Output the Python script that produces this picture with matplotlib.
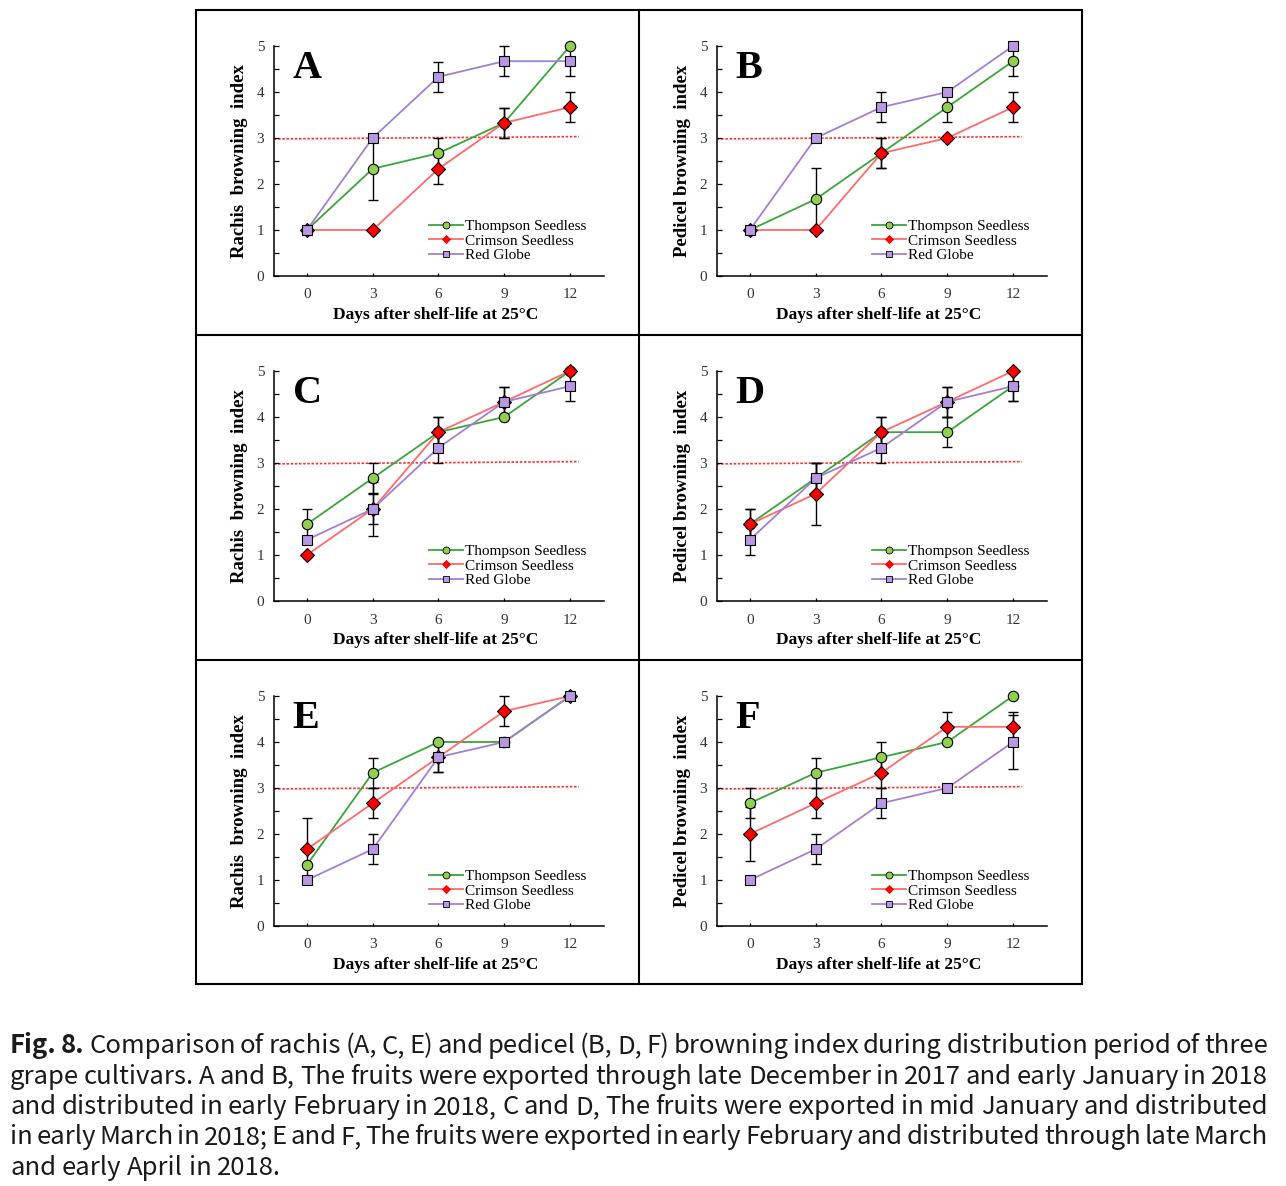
import matplotlib.pyplot as plt
from matplotlib.lines import Line2D
from matplotlib.patches import Rectangle
from matplotlib.ticker import MultipleLocator

# --- data (browning index, mean and error) ---
days = [0, 3, 6, 9, 12]
cultivars = ['Thompson Seedless', 'Crimson Seedless', 'Red Globe']

# A: rachis, exported late Dec 2017 / early Jan 2018
a_ts = [1.0, 2.33, 2.67, 3.33, 5.0]
a_ts_err = [0, 0.67, 0.33, 0.33, 0]
a_cs = [1.0, 1.0, 2.33, 3.33, 3.67]
a_cs_err = [0, 0, 0.33, 0.33, 0.33]
a_rg = [1.0, 3.0, 4.33, 4.67, 4.67]
a_rg_err = [0, 0, 0.33, 0.33, 0.33]

# B: pedicel
b_ts = [1.0, 1.67, 2.67, 3.67, 4.67]
b_ts_err = [0, 0.67, 0.33, 0.33, 0.33]
b_cs = [1.0, 1.0, 2.67, 3.0, 3.67]
b_cs_err = [0, 0, 0.33, 0, 0.33]
b_rg = [1.0, 3.0, 3.67, 4.0, 5.0]
b_rg_err = [0, 0, 0.33, 0, 0]

# C: rachis, exported mid Jan
c_ts = [1.67, 2.67, 3.67, 4.0, 5.0]
c_ts_err = [0.33, 0.33, 0.33, 0, 0]
c_cs = [1.0, 2.0, 3.67, 4.33, 5.0]
c_cs_err = [0, 0.33, 0.33, 0.33, 0]
c_rg = [1.33, 2.0, 3.33, 4.33, 4.67]
c_rg_err = [0, 0.58, 0.33, 0.33, 0.33]

# D: pedicel
d_ts = [1.67, 2.67, 3.67, 3.67, 4.67]
d_ts_err = [0.33, 0.33, 0.33, 0.33, 0.33]
d_cs = [1.67, 2.33, 3.67, 4.33, 5.0]
d_cs_err = [0.33, 0.67, 0.33, 0.33, 0]
d_rg = [1.33, 2.67, 3.33, 4.33, 4.67]
d_rg_err = [0.33, 0.33, 0.33, 0.33, 0.33]

# E: rachis, exported early Feb
e_ts = [1.33, 3.33, 4.0, 4.0, 5.0]
e_ts_err = [0, 0.33, 0, 0, 0]
e_cs = [1.67, 2.67, 3.67, 4.67, 5.0]
e_cs_err = [0.67, 0.33, 0.33, 0.33, 0]
e_rg = [1.0, 1.67, 3.67, 4.0, 5.0]
e_rg_err = [0, 0.33, 0.33, 0, 0]

# F: pedicel
f_ts = [2.67, 3.33, 3.67, 4.0, 5.0]
f_ts_err = [0.33, 0.33, 0.33, 0, 0]
f_cs = [2.0, 2.67, 3.33, 4.33, 4.33]
f_cs_err = [0.58, 0.33, 0.33, 0.33, 0.33]
f_rg = [1.0, 1.67, 2.67, 3.0, 4.0]
f_rg_err = [0, 0.33, 0.33, 0, 0.58]

# dotted threshold line (index 3)
thr_x = [-1.5, 12.4]
thr_y = [2.98, 3.03]

caption_lines = [
    "Fig. 8. Comparison of rachis (A, C, E) and pedicel (B, D, F) browning index during distribution period of three",
    "grape cultivars. A and B, The fruits were exported through late December in 2017 and early January in 2018",
    "and distributed in early February in 2018, C and D, The fruits were exported in mid January and distributed",
    "in early March in 2018; E and F, The fruits were exported in early February and distributed through late March",
    "and early April in 2018.",
]

panels = [
    ('A', 'Rachis  browning  index', (a_ts, a_ts_err), (a_cs, a_cs_err), (a_rg, a_rg_err)),
    ('B', 'Pedicel browning  index', (b_ts, b_ts_err), (b_cs, b_cs_err), (b_rg, b_rg_err)),
    ('C', 'Rachis  browning  index', (c_ts, c_ts_err), (c_cs, c_cs_err), (c_rg, c_rg_err)),
    ('D', 'Pedicel browning  index', (d_ts, d_ts_err), (d_cs, d_cs_err), (d_rg, d_rg_err)),
    ('E', 'Rachis  browning  index', (e_ts, e_ts_err), (e_cs, e_cs_err), (e_rg, e_rg_err)),
    ('F', 'Pedicel browning  index', (f_ts, f_ts_err), (f_cs, f_cs_err), (f_rg, f_rg_err)),
]

# style per cultivar: line colour, marker, marker fill, size
styles = [
    ('#3aa53a', 'o', '#93cf4f', 7.5),
    ('#ff6a6a', 'D', '#ff0000', 7.5),
    ('#a27fd2', 's', '#b898e2', 7.0),
]

SERIF = 'Liberation Serif'
W, H = 1286, 1186

fig = plt.figure(figsize=(W / 100, H / 100), dpi=100)

def fx(px):
    return px / W

def fy(py):
    return 1 - py / H

# panel frames
fig.add_artist(Rectangle((fx(196), fy(984)), fx(1082 - 196), (984 - 10) / H,
                         transform=fig.transFigure, fill=False, lw=1.5, ec='black'))
fig.add_artist(Line2D([fx(639), fx(639)], [fy(10), fy(984)], transform=fig.transFigure, lw=1.5, color='black'))
for yy in (335, 660):
    fig.add_artist(Line2D([fx(196), fx(1082)], [fy(yy), fy(yy)], transform=fig.transFigure, lw=1.5, color='black'))

origins = [(196, 10), (639, 10), (196, 335), (639, 335), (196, 660), (639, 660)]

for (px, py), (letter, ylab, *series) in zip(origins, panels):
    ax = fig.add_axes([fx(px + 78), fy(py + 266), 330 / W, 230 / H])
    ax.set_xlim(-1.5, 13.55)
    ax.set_ylim(0, 5)
    for s in ('top', 'right'):
        ax.spines[s].set_visible(False)
    for s in ('left', 'bottom'):
        ax.spines[s].set_linewidth(1.1)

    ax.plot(thr_x, thr_y, color='#ff3030', lw=1.2, ls=(0, (1.5, 1)), clip_on=False, zorder=1)

    for k, (vals, err) in enumerate(series):
        col, mk, mfc, ms = styles[k]
        ex = [d for d, e in zip(days, err) if e > 0]
        ey = [v for v, e in zip(vals, err) if e > 0]
        ee = [e for e in err if e > 0]
        if ex:
            ax.errorbar(ex, ey, yerr=ee, fmt='none', ecolor='black', elinewidth=1,
                        capsize=3.5, capthick=1, zorder=2, clip_on=False)
        ax.plot(days, vals, color=col, lw=1.3, marker=mk, ms=ms, mfc=mfc, mec='black',
                mew=0.8, clip_on=False, zorder=3 + k)

    ax.set_xticks(days)
    ax.yaxis.set_major_locator(MultipleLocator(1))
    ax.yaxis.set_minor_locator(MultipleLocator(0.5))
    ax.tick_params(axis='y', which='both', direction='in', length=3.5, width=0.9, pad=7,
                   labelsize=11, labelcolor='#333333')
    ax.tick_params(axis='x', direction='in', length=2.5, width=0.9, pad=9,
                   labelsize=11, labelcolor='#333333')
    for lab in ax.get_xticklabels() + ax.get_yticklabels():
        lab.set_fontfamily(SERIF)

    ax.text(-0.65, 4.3, letter, fontsize=29, fontweight='bold', family=SERIF,
            ha='left', va='baseline', zorder=6)
    ax.text(-0.106, 0.5, ylab, transform=ax.transAxes, rotation=90, ha='center', va='center',
            fontsize=13.5, fontweight='bold', family=SERIF)
    ax.text(0.49, -0.17, 'Days after shelf-life at 25°C', transform=ax.transAxes,
            ha='center', va='center', fontsize=12.5, fontweight='bold', family=SERIF)

    handles = [Line2D([], [], color=c, lw=1.3, marker=m, ms=5 if m != 'D' else 4.5,
                      mfc=f, mec='black' if m != 'D' else f, mew=0.6)
               for c, m, f, _ in styles]
    ax.legend(handles, cultivars, loc='upper left', bbox_to_anchor=(0.47, 0.245),
              frameon=False, borderpad=0, borderaxespad=0, labelspacing=0.05,
              handlelength=2.2, handletextpad=0.15, prop={'family': SERIF, 'size': 11})

# caption, justified line by line
renderer = fig.canvas.get_renderer()
left_px, right_px = 10, 1268
base0, step = 1053, 30.5
cap_font = ['Noto Sans CJK KR', 'DejaVu Sans']
cap_size = 18.5
probe1 = fig.text(0, 0, 'a a', fontsize=cap_size, family=cap_font)
probe2 = fig.text(0, 0, 'aa', fontsize=cap_size, family=cap_font)
space_w = probe1.get_window_extent(renderer).width - probe2.get_window_extent(renderer).width
probe1.remove()
probe2.remove()
for i, line in enumerate(caption_lines):
    words = line.split(' ')
    texts = []
    for j, w in enumerate(words):
        bold = (i == 0 and j < 2)
        t = fig.text(0, fy(base0 + i * step), w, fontsize=cap_size, family=cap_font,
                     fontweight='bold' if bold else 'normal', va='baseline', ha='left',
                     color='#1a1a1a')
        texts.append(t)
    widths = [t.get_window_extent(renderer).width for t in texts]
    if i < len(caption_lines) - 1:
        gap = (right_px - left_px - sum(widths)) / (len(words) - 1)
    else:
        gap = space_w
    x = left_px
    for t, wdt in zip(texts, widths):
        t.set_x(fx(x))
        x += wdt + gap

fig.savefig('out.png', dpi=100)
